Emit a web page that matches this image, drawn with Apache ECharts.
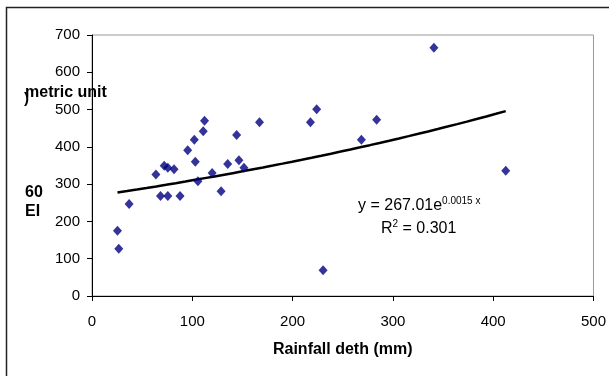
<!DOCTYPE html>
<html>
<head>
<meta charset="utf-8">
<script src="https://cdn.jsdelivr.net/npm/echarts@6/dist/echarts.min.js"></script>
<style>
  html, body { margin: 0; padding: 0; background: #fff; }
  #chart { width: 609px; height: 376px; }
</style>
</head>
<body>
<div id="chart"></div>
<script>
// rainfall depth (mm) vs EI30
const rainfall = [25.4, 26.7, 37, 63.7, 68.3, 72, 75.6, 75.6, 81.8, 87.8, 95.4, 102, 103, 105.6,
  110.9, 112.2, 119.8, 128.7, 135.3, 144.2, 146.5, 151.5, 167, 217.8, 224, 230.4, 268.6, 283.8, 340.9, 412.5]
const ei30 = [175, 127, 247, 326, 268, 349, 268, 344, 340, 268, 391, 419, 360, 308,
  442, 470, 330, 281, 354, 432, 364, 344, 466, 466, 501, 69, 419, 473, 666, 336]

// exponential trendline  y = a * e^(b x)
const fitA = 267.01
const fitB = 0.0015

const points = rainfall.map((x, i) => [x, ei30[i]])
const xMin = Math.min(...rainfall)
const xMax = Math.max(...rainfall)
const trend = []
for (let i = 0; i <= 40; i++) {
  const x = xMin + (xMax - xMin) * i / 40
  trend.push([x, fitA * Math.exp(fitB * x)])
}

const chart = echarts.init(document.getElementById('chart'))
const font = 'Liberation Sans, Arial, sans-serif'
chart.setOption({
  animation: false,
  textStyle: { fontFamily: font },
  grid: { left: 92, top: 35, width: 505, height: 261, show: true, borderColor: '#999', borderWidth: 1 },
  xAxis: {
    type: 'value', min: 0, max: 500, interval: 100,
    splitLine: { show: false },
    axisLine: { onZero: false, lineStyle: { color: '#000', width: 1 } },
    axisTick: { show: true, length: 5, lineStyle: { color: '#000' } },
    axisLabel: { color: '#000', fontSize: 15, margin: 18, fontFamily: font },
    name: 'Rainfall deth (mm)', nameLocation: 'middle', nameGap: 46,
    nameTextStyle: { color: '#000', fontSize: 16, fontWeight: 'bold', fontFamily: font }
  },
  yAxis: {
    type: 'value', min: 0, max: 700, interval: 100,
    splitLine: { show: false },
    axisLine: { onZero: false, lineStyle: { color: '#000', width: 1 } },
    axisTick: { show: true, length: 5, lineStyle: { color: '#000' } },
    axisLabel: { color: '#000', fontSize: 15, margin: 12, fontFamily: font }
  },
  graphic: [
    { type: 'rect', shape: { x: 6.5, y: 7.5, width: 640, height: 400 },
      style: { fill: null, stroke: '#222', lineWidth: 1.5 }, z: 100 },
    { type: 'text', left: 25, top: 85, z: 100,
      style: { text: 'metric unit', font: 'bold 16px ' + font, fill: '#000' } },
    { type: 'text', left: 24, top: 91, z: 100,
      style: { text: ')', font: 'bold 15px ' + font, fill: '#000' } },
    { type: 'text', left: 25, top: 185, z: 100,
      style: { text: '60', font: 'bold 16px ' + font, fill: '#000' } },
    { type: 'text', left: 25, top: 204, z: 100,
      style: { text: 'EI', font: 'bold 16px ' + font, fill: '#000' } },
    { type: 'text', left: 358, top: 196, z: 100,
      style: {
        text: '{b|y = 267.01e}{s|0.0015 x}',
        rich: {
          b: { fontSize: 16, fontFamily: font, fill: '#000' },
          s: { fontSize: 10, fontFamily: font, fill: '#000', padding: [0, 0, 10, 0] }
        }
      } },
    { type: 'text', left: 381, top: 219, z: 100,
      style: {
        text: '{b|R}{s|2}{b| = 0.301}',
        rich: {
          b: { fontSize: 16, fontFamily: font, fill: '#000' },
          s: { fontSize: 10, fontFamily: font, fill: '#000', padding: [0, 0, 10, 0] }
        }
      } }
  ],
  series: [
    {
      type: 'line', data: trend, showSymbol: false, smooth: false,
      lineStyle: { color: '#000', width: 2.5 }, z: 2
    },
    {
      type: 'scatter', data: points, symbol: 'diamond', symbolSize: [9, 10],
      itemStyle: { color: '#000080' }, z: 3
    }
  ]
})
</script>
</body>
</html>
